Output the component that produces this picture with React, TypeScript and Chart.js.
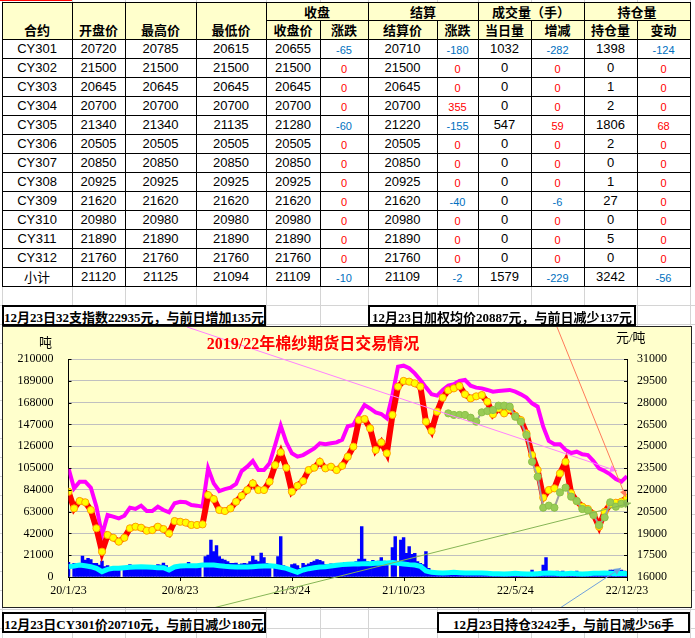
import React, { useEffect, useRef } from 'react';
import { Chart, registerables } from 'chart.js';
Chart.register(...registerables);

// ---------------- table data ----------------
const CONTRACTS = ['CY301','CY302','CY303','CY304','CY305','CY306','CY307','CY308','CY309','CY310','CY311','CY312','小计'];
const OPEN = [20720,21500,20645,20700,21340,20505,20850,20925,21620,20980,21890,21760,21120];
const HIGH = [20785,21500,20645,20700,21340,20505,20850,20925,21620,20980,21890,21760,21125];
const LOW = [20615,21500,20645,20700,21135,20505,20850,20925,21620,20980,21890,21760,21094];
const CLOSE = [20655,21500,20645,20700,21280,20505,20850,20925,21620,20980,21890,21760,21109];
const CLOSE_CHG = [-65,0,0,0,-60,0,0,0,0,0,0,0,-10];
const SETTLE = [20710,21500,20645,20700,21220,20505,20850,20925,21620,20980,21890,21760,21109];
const SETTLE_CHG = [-180,0,0,355,-155,0,0,0,-40,0,0,0,-2];
const VOL_DAY = [1032,0,0,0,547,0,0,0,0,0,0,0,1579];
const VOL_CHG = [-282,0,0,0,59,0,0,0,-6,0,0,0,-229];
const OPEN_INT = [1398,0,1,2,1806,2,0,1,27,0,5,0,3242];
const OI_CHG = [-124,0,0,0,68,0,0,0,0,0,0,0,-56];

const HEAD_TOP = ['收盘','结算','成交量（手）','持仓量'];
const HEAD_LEFT = ['合约','开盘价','最高价','最低价'];
const HEAD_SUB = ['收盘价','涨跌','结算价','涨跌','当日量','增减','持仓量','变动'];

const NOTE_1 = '12月23日32支指数22935元，与前日增加135元';
const NOTE_2 = '12月23日加权均价20887元，与前日减少137元';
const NOTE_3 = '12月23日CY301价20710元，与前日减少180元';
const NOTE_4 = '12月23日持仓3242手，与前日减少56手';
const TITLE = '2019/22年棉纱期货日交易情况';

// ---------------- chart data ----------------
// x axis: 101 samples from 2020-01-23 to 2022-12-23 (label every 20 samples)
const X_LABELS = ['20/1/23','20/8/23','21/3/24','21/10/23','22/5/24','22/12/23'];

// 32支 index (元/吨, right axis)
const INDEX_32 = [
  23475,22100,22560,22560,22145,20840,18890,20260,20150,20030,
  20220,20770,20680,20910,20540,20540,20840,20610,20450,21070,
  21180,21140,20950,20910,20840,23475,22440,21915,22050,22145,
  22400,23290,23590,23980,23360,23360,23820,25080,26410,25265,
  24510,24280,24390,24620,24850,25200,25130,25200,25265,25450,
  26370,26460,27190,27830,27600,27330,27215,26920,28520,30470,
  30540,30360,30010,29555,29050,28570,28480,28870,29165,29260,
  29490,29555,29165,29030,28980,28870,28750,28800,28840,28870,
  28750,28570,28340,27950,27720,26340,25360,25130,25130,24740,
  24530,24620,24440,24390,23980,23475,23290,23060,22740,22560,
  22935
];

// CY main price (元/吨, right axis)
const CY_PRICE = [
  21870,20720,21230,21140,20610,19350,17740,18890,18700,18430,
  18700,19350,19460,19390,19190,19230,19460,19300,19000,19850,
  19800,19740,19580,19580,19620,21640,21365,20610,20540,20720,
  21180,21590,21985,22440,21985,21985,22560,23700,24580,23520,
  21870,22280,22600,23360,23520,23930,23475,23590,23360,23650,
  24280,24970,26800,26870,26230,24740,25265,24510,27150,29100,
  29490,29440,29325,29100,26690,26045,27375,28340,28840,28980,
  29140,28570,28290,28430,28520,28060,27190,27600,27260,27540,
  27100,26800,25880,24390,23360,21460,21985,22100,23130,23930,
  21760,21230,20840,20680,20310,19460,20490,21000,21110,21180,
  21460
];

// weighted average price (元/吨, right axis), starts at sample 68
const AVG_START = 68;
const AVG_PRICE = [
  27260,27150,27150,27150,26960,26690,27330,27420,27490,27790,
  27790,27720,27030,26690,25770,23930,22900,20770,20910,20770,
  21820,22145,21530,21230,20680,20590,20260,19580,20100,21140,
  20840,21040,21070
];

// open interest (手, left axis)
const OPEN_INTEREST = [
  9950,10600,11560,10900,9950,8350,5140,7390,8350,8350,
  8990,9310,9630,9950,9630,9310,8990,8990,6740,9630,
  10600,10900,10900,10900,11560,11560,11560,10900,10280,9950,
  9630,9630,9630,9950,10280,10600,10900,10280,9310,8350,
  6420,4500,6740,8030,8990,9630,9950,10600,11240,11920,
  12240,12560,12560,12880,12880,13200,13200,13520,13850,13200,
  12560,11920,11560,10280,5780,4500,4180,3850,4180,4500,
  4180,3850,3850,3850,3850,3500,3200,3200,2900,3200,
  3500,3200,2900,2900,3200,3500,3800,3500,3200,3200,
  3500,3200,2900,3200,3500,3500,3800,3500,3200,3500,
  3242
];

// daily volume (手, left axis), 201 half-step samples
const VOLUME = [
  14100,null,13200,11600,13200,20200,16400,18000,16700,13200,
  13200,11600,15400,10000,10900,8300,9000,6700,7700,null,
  8300,9000,11900,10900,10000,9600,9000,8300,9000,8300,
  8300,9600,11900,11600,13500,10900,8300,9000,8300,11600,
  9600,10900,11900,14100,11900,10900,11600,10300,null,19600,
  21200,35600,24400,30200,19600,17300,16400,14800,13200,13200,
  13500,11900,12800,13200,12800,14800,20200,16400,14800,23100,
  18600,13200,11600,null,11600,19600,38900,10900,8300,9000,
  11900,12800,10900,8300,13200,11600,12800,14100,15400,16700,
  16100,14800,11900,11600,12800,11600,10900,11900,12800,14100,
  13500,11900,12800,14800,17300,48500,17300,14800,14100,16100,
  14800,15400,18600,15400,11900,null,28300,38900,null,35600,
  37900,22800,29200,21800,22800,14800,13200,11900,24400,8300,
  3200,2600,2600,1900,2600,1900,3200,1900,2600,1900,
  1900,2200,1900,1600,1900,1900,1600,1900,1900,1600,
  1900,1600,1600,1900,1600,1600,1300,1600,1900,1600,
  1900,1900,1900,1900,2600,3200,6700,3500,3200,5100,
  11600,18600,5100,3200,3500,5800,5100,5800,3500,3200,
  3900,4500,5800,4500,3500,3500,3200,3900,3200,3500,
  3200,3900,4500,5100,6700,6700,5100,5800,6700,5800,
  5100
];

// callout connector lines (start on the chart frame edge, end at a data location)
const CALLOUTS = [
  { color: '#FF80FF', from: [184, 0], to: { x: 98.2, y: 23300, axis: 'yR' } },
  { color: '#FF7A5A', from: [554, 0], to: { x: 99.8, y: 21500, axis: 'yR' } },
  { color: '#86B556', from: [210, 281], to: { x: 100.7, y: 21090, axis: 'yR' } },
  { color: '#6FA0DC', from: [557, 281], to: { x: 98.9, y: 8670, axis: 'yL' } },
];

// ---------------- layout ----------------
const COL_X = [2, 72, 125, 196, 266, 320, 368, 437, 478, 531, 584, 637, 690];
const ROW0 = 39;
const ROW_H = 19;
const CJK = "'Noto Sans CJK SC', sans-serif";
const SERIF = "'Liberation Serif', 'Noto Sans CJK SC', serif";

const calloutPlugin = {
  id: 'callouts',
  afterDatasetsDraw(chart: any) {
    const ctx = chart.ctx;
    const xs = chart.scales.x;
    ctx.save();
    for (const c of CALLOUTS) {
      const ex = xs.getPixelForValue(c.to.x);
      const ey = chart.scales[c.to.axis].getPixelForValue(c.to.y);
      const [sx, sy] = c.from;
      ctx.strokeStyle = c.color;
      ctx.fillStyle = c.color;
      ctx.lineWidth = 1;
      ctx.beginPath();
      ctx.moveTo(sx, sy);
      ctx.lineTo(ex, ey);
      ctx.stroke();
      const a = Math.atan2(ey - sy, ex - sx);
      const L = 7, W = 3.5;
      ctx.beginPath();
      ctx.moveTo(ex, ey);
      ctx.lineTo(ex - L * Math.cos(a) + W * Math.sin(a), ey - L * Math.sin(a) - W * Math.cos(a));
      ctx.lineTo(ex - L * Math.cos(a) - W * Math.sin(a), ey - L * Math.sin(a) + W * Math.cos(a));
      ctx.closePath();
      ctx.fill();
    }
    ctx.restore();
  },
  afterDraw(chart: any) {
    const ctx = chart.ctx;
    const { x, yL, yR } = chart.scales;
    ctx.save();
    ctx.strokeStyle = '#000';
    ctx.lineWidth = 1;
    ctx.beginPath();
    yL.ticks.forEach((t: any) => {
      const py = Math.round(yL.getPixelForValue(t.value)) + 0.5;
      ctx.moveTo(yL.right, py); ctx.lineTo(yL.right + 3, py);
    });
    yR.ticks.forEach((t: any) => {
      const py = Math.round(yR.getPixelForValue(t.value)) + 0.5;
      ctx.moveTo(yR.left - 3, py); ctx.lineTo(yR.left, py);
    });
    x.ticks.forEach((t: any) => {
      const px = Math.round(x.getPixelForValue(t.value)) + 0.5;
      ctx.moveTo(px, x.top); ctx.lineTo(px, x.top + 4);
    });
    ctx.stroke();
    ctx.restore();
  },
};

const tickFont = { family: "'Liberation Serif', serif", size: 12 };

function ChartBox() {
  const ref = useRef<HTMLCanvasElement>(null);
  useEffect(() => {
    const chart = new Chart(ref.current as HTMLCanvasElement, {
      type: 'line',
      data: {
        datasets: [
          {
            type: 'line', label: 'avg', yAxisID: 'yR', order: 1,
            data: AVG_PRICE.map((v, i) => ({ x: AVG_START + i, y: v })),
            borderColor: '#A0A0A0', borderWidth: 2,
            pointRadius: 3.6, pointBackgroundColor: '#99CC55', pointBorderColor: '#8CC04A', pointBorderWidth: 1,
          },
          {
            type: 'line', label: 'price', yAxisID: 'yR', order: 2,
            data: CY_PRICE.map((v, i) => ({ x: i, y: v })),
            borderColor: '#FF0000', borderWidth: 6,
            pointRadius: 3.6, pointBackgroundColor: '#FFFF00', pointBorderColor: '#FFA000', pointBorderWidth: 1,
          },
          {
            type: 'line', label: 'index', yAxisID: 'yR', order: 3,
            data: INDEX_32.map((v, i) => ({ x: i, y: v })),
            borderColor: '#FF00FF', borderWidth: 4, pointRadius: 0,
          },
          {
            type: 'line', label: 'oi', yAxisID: 'yL', order: 4,
            data: OPEN_INTEREST.map((v, i) => ({ x: i, y: v })),
            borderColor: '#00FFFF', borderWidth: 5, pointRadius: 0,
          },
          {
            type: 'bar', label: 'vol', yAxisID: 'yL', order: 5,
            data: VOLUME.map((v, j) => ({ x: j / 2, y: v })),
            backgroundColor: '#0000FF', borderWidth: 0,
            barPercentage: 1, categoryPercentage: 1,
          },
        ] as any,
      },
      options: {
        animation: false,
        responsive: false,
        maintainAspectRatio: false,
        devicePixelRatio: 1,
        layout: { padding: { top: 32, left: 0, right: 0, bottom: 0 } },
        plugins: { legend: { display: false }, tooltip: { enabled: false } },
        scales: {
          x: {
            type: 'linear', min: 0, max: 100, offset: false,
            grid: { display: false, drawTicks: false },
            border: { display: true, color: '#000', width: 1 },
            ticks: {
              stepSize: 20, autoSkip: false, maxRotation: 0, padding: 7,
              color: '#000', font: tickFont,
              callback: (v: any) => X_LABELS[Math.round(Number(v) / 20)] ?? '',
            },
            afterFit: (s: any) => { s.height = 30; },
          },
          yL: {
            type: 'linear', position: 'left', min: 0, max: 210000,
            grid: { color: '#C0C0C0', drawTicks: false, lineWidth: 1 },
            border: { display: true, color: '#000', width: 1 },
            ticks: { stepSize: 21000, padding: 15, color: '#000', font: tickFont, callback: (v: any) => String(v) },
            afterFit: (s: any) => { s.width = 65.5; },
          },
          yR: {
            type: 'linear', position: 'right', min: 16000, max: 31000,
            grid: { display: false, drawTicks: false },
            border: { display: true, color: '#000', width: 1 },
            ticks: { stepSize: 1500, padding: 10, color: '#000', font: tickFont, callback: (v: any) => String(v) },
            afterFit: (s: any) => { s.width = 64; },
          },
        },
      } as any,
      plugins: [calloutPlugin],
    });
    return () => chart.destroy();
  }, []);
  return (
    <div style={{ position: 'absolute', left: 2, top: 326, width: 690, height: 282, boxSizing: 'border-box', border: '1px solid #222', background: '#FFFFCC' }}>
      <canvas ref={ref} width={688} height={280} style={{ position: 'absolute', left: 0, top: 0, width: 688, height: 280 }} />
    </div>
  );
}

function abs(l: number, t: number, w: number, h: number, extra: any = {}) {
  return { position: 'absolute', left: l, top: t, width: w, height: h, ...extra } as React.CSSProperties;
}

export default function App() {
  const rows = CONTRACTS.map((c, r) => [c, OPEN[r], HIGH[r], LOW[r], CLOSE[r], CLOSE_CHG[r], SETTLE[r], SETTLE_CHG[r], VOL_DAY[r], VOL_CHG[r], OPEN_INT[r], OI_CHG[r]]);
  const changeCols = [5, 7, 9, 11];
  const tableBottom = ROW0 + ROW_H * rows.length;
  const els: React.ReactNode[] = [];

  // excel gridlines
  COL_X.forEach((x, i) => els.push(<div key={'gv' + i} style={abs(x, 0, 1, 638, { background: '#D4D4D4' })} />));
  for (let y = tableBottom + ROW_H, k = 0; y < 638; y += ROW_H, k++) {
    els.push(<div key={'gh' + k} style={abs(0, y, 695, 1, { background: '#D4D4D4' })} />);
  }
  // header background
  els.push(<div key="hbg" style={abs(2, 2, 688, 37, { background: '#FFFFCC' })} />);
  els.push(<div key="tbg" style={abs(2, 39, 688, tableBottom - 39, { background: '#FFFFFF' })} />);
  els.push(<div key="redsel" style={abs(0, 0, 72, 1, { background: '#FF0000' })} />);

  const headStyle = { display: 'flex', alignItems: 'center', justifyContent: 'center', fontFamily: CJK, fontWeight: 700, fontSize: 13, color: '#000', whiteSpace: 'nowrap' };
  HEAD_LEFT.forEach((t, c) => els.push(<div key={'hl' + c} style={abs(COL_X[c], 20, COL_X[c + 1] - COL_X[c], 19, headStyle)}>{t}</div>));
  HEAD_TOP.forEach((t, k) => {
    const c = 4 + 2 * k;
    els.push(<div key={'ht' + k} style={abs(COL_X[c], 2, COL_X[c + 2] - COL_X[c], 18, headStyle)}>{t}</div>);
  });
  HEAD_SUB.forEach((t, k) => {
    const c = 4 + k;
    els.push(<div key={'hs' + k} style={abs(COL_X[c], 20, COL_X[c + 1] - COL_X[c], 19, headStyle)}>{t}</div>);
  });

  rows.forEach((row, r) => {
    row.forEach((v, c) => {
      const isChg = changeCols.includes(c);
      const num = typeof v === 'number' ? v : 0;
      const st: any = {
        display: 'flex', alignItems: 'center', justifyContent: 'center', whiteSpace: 'nowrap',
        fontFamily: typeof v === 'string' && !/^[A-Z]/.test(v) ? CJK : "'Liberation Sans', 'Noto Sans CJK SC', sans-serif",
        fontSize: isChg ? 11 : 13,
        color: isChg ? (num < 0 ? '#0070C0' : '#FF0000') : '#000',
        paddingTop: isChg ? 3 : 0, boxSizing: 'border-box',
      };
      els.push(<div key={`c${r}_${c}`} style={abs(COL_X[c], ROW0 + ROW_H * r, COL_X[c + 1] - COL_X[c], ROW_H, st)}>{String(v)}</div>);
    });
  });

  // table borders
  const splitCols = [5, 7, 9, 11];
  COL_X.forEach((x, i) => {
    const split = splitCols.includes(i);
    const top = split ? 20 : 2;
    els.push(<div key={'bv' + i} style={abs(x, top, 1, tableBottom - top + 1, { background: '#000' })} />);
  });
  els.push(<div key="bh0" style={abs(2, 2, 689, 1, { background: '#000' })} />);
  els.push(<div key="bh1" style={abs(266, 20, 425, 1, { background: '#000' })} />);
  for (let r = 0; r <= rows.length; r++) {
    els.push(<div key={'bhr' + r} style={abs(2, ROW0 + ROW_H * r, 689, 1, { background: '#000' })} />);
  }

  const noteStyle = {
    boxSizing: 'border-box', border: '2px solid #000', background: '#fff', overflow: 'hidden',
    display: 'flex', alignItems: 'center', justifyContent: 'center', whiteSpace: 'nowrap',
    fontFamily: SERIF, fontWeight: 700, fontSize: 13, color: '#000', paddingTop: 2,
  };

  return (
    <div style={{ position: 'absolute', left: 0, top: 0, width: 695, height: 638, overflow: 'hidden', background: '#fff' }}>
      {els}
      <ChartBox />
      <div style={abs(113, 334, 400, 20, { textAlign: 'center', lineHeight: '20px', fontFamily: SERIF, fontWeight: 700, fontSize: 16, color: '#FF0000', whiteSpace: 'nowrap' })}>{TITLE}</div>
      <div style={abs(39, 334, 20, 16, { lineHeight: '16px', fontFamily: CJK, fontSize: 13, color: '#000' })}>吨</div>
      <div style={abs(616, 330, 40, 16, { lineHeight: '16px', fontFamily: SERIF, fontSize: 13, color: '#000', whiteSpace: 'nowrap' })}>元/吨</div>
      <div style={abs(2, 305, 264, 21, noteStyle)}>{NOTE_1}</div>
      <div style={abs(368, 305, 268, 21, noteStyle)}>{NOTE_2}</div>
      <div style={abs(2, 612, 264, 21, noteStyle)}>{NOTE_3}</div>
      <div style={abs(437, 612, 253, 21, noteStyle)}>{NOTE_4}</div>
    </div>
  );
}
